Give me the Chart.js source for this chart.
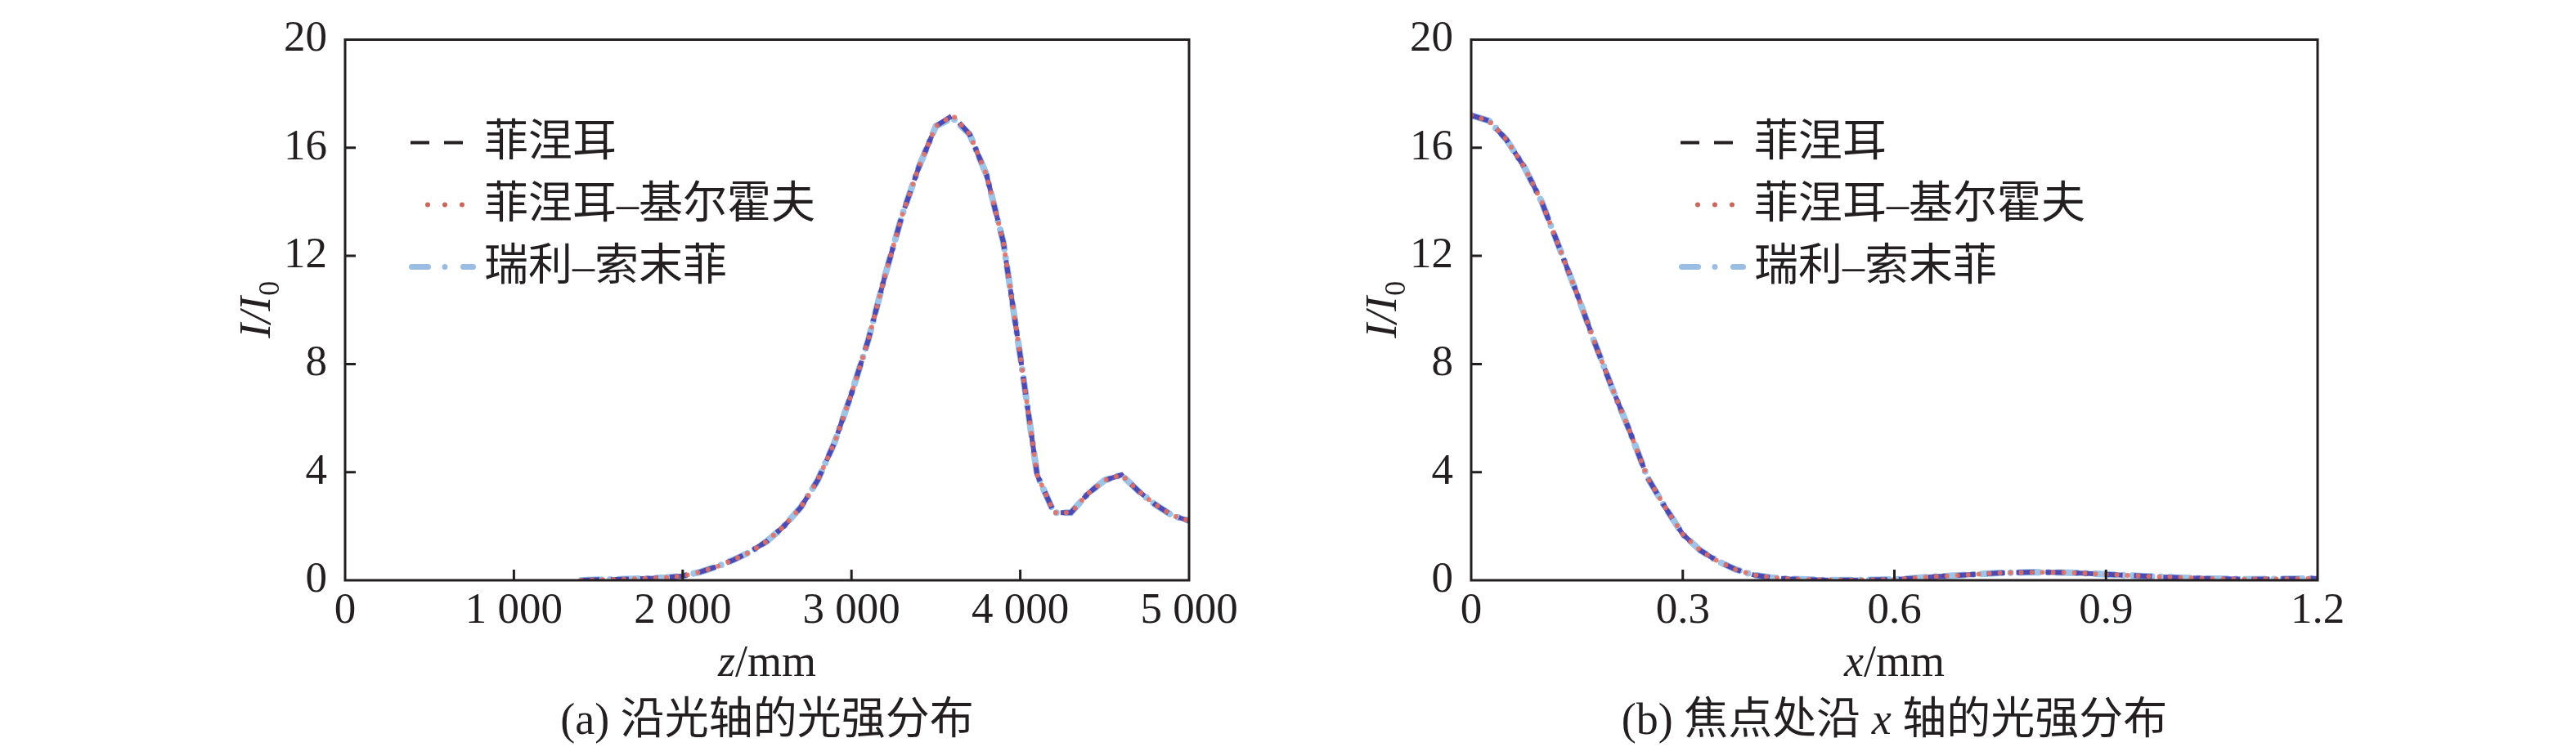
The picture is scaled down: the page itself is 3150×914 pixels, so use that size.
<!DOCTYPE html>
<html>
<head>
<meta charset="utf-8">
<script src="https://cdn.jsdelivr.net/npm/chart.js@4.4.1/dist/chart.umd.min.js"></script>
<style>
  html, body { margin: 0; padding: 0; background: #fff; }
  #wrap { width: 3150px; height: 914px; display: flex; }
  canvas { display: block; }
</style>
</head>
<body>
<div id="wrap">
  <canvas id="chartA" width="1575" height="914"></canvas>
  <canvas id="chartB" width="1575" height="914"></canvas>
</div>
<script>
// (a) intensity along the optical axis, z in mm
const zPos = [1400, 1500, 1600, 1700, 1800, 1900, 2000, 2100, 2200, 2300,
  2400, 2500, 2600, 2700, 2800, 2900, 3000, 3100, 3200, 3300,
  3400, 3500, 3600, 3700, 3800, 3900, 4000, 4100, 4200, 4300,
  4400, 4500, 4600, 4700, 4800, 4900, 5000];
const fresnelZ = [0.0, 0.02, 0.03, 0.05, 0.07, 0.1, 0.16, 0.3, 0.5, 0.75,
  1.05, 1.45, 2.0, 2.7, 3.7, 5.1, 6.9, 8.9, 11.3, 13.5,
  15.3, 16.8, 17.2, 16.5, 15.0, 12.5, 8.3, 3.9, 2.5, 2.5,
  3.2, 3.7, 3.9, 3.3, 2.8, 2.4, 2.2];
const kirchhoffZ = [0.0, 0.02, 0.03, 0.05, 0.07, 0.1, 0.16, 0.3, 0.5, 0.75,
  1.05, 1.45, 2.0, 2.7, 3.7, 5.1, 6.9, 8.9, 11.3, 13.5,
  15.3, 16.8, 17.2, 16.5, 15.0, 12.5, 8.3, 3.9, 2.5, 2.5,
  3.2, 3.7, 3.9, 3.3, 2.8, 2.4, 2.2];
const rayleighZ = [0.0, 0.02, 0.03, 0.05, 0.07, 0.1, 0.16, 0.3, 0.5, 0.75,
  1.05, 1.45, 2.0, 2.7, 3.7, 5.1, 6.9, 8.9, 11.3, 13.5,
  15.3, 16.8, 17.1, 16.5, 15.0, 12.5, 8.3, 3.9, 2.5, 2.5,
  3.2, 3.7, 3.9, 3.3, 2.8, 2.4, 2.2];

// (b) intensity across the focal plane, x in mm
const xPos = [0, 0.025, 0.05, 0.075, 0.1, 0.125, 0.15, 0.175, 0.2, 0.225,
  0.25, 0.275, 0.3, 0.325, 0.35, 0.375, 0.4, 0.425, 0.45, 0.5,
  0.55, 0.6, 0.65, 0.7, 0.75, 0.8, 0.85, 0.9, 0.95, 1.0,
  1.05, 1.1, 1.15, 1.2];
const fresnelX = [17.2, 17.0, 16.3, 15.3, 14.0, 12.3, 10.6, 8.8, 7.1, 5.5,
  3.8, 2.7, 1.7, 1.1, 0.7, 0.4, 0.2, 0.1, 0.05, 0.01,
  0.01, 0.03, 0.12, 0.2, 0.27, 0.3, 0.28, 0.22, 0.16, 0.1,
  0.06, 0.04, 0.05, 0.07];
const kirchhoffX = [17.2, 17.0, 16.3, 15.3, 14.0, 12.3, 10.6, 8.8, 7.1, 5.5,
  3.8, 2.7, 1.7, 1.1, 0.7, 0.4, 0.2, 0.1, 0.05, 0.01,
  0.01, 0.03, 0.12, 0.2, 0.27, 0.3, 0.28, 0.22, 0.16, 0.1,
  0.06, 0.04, 0.05, 0.07];
const rayleighX = [17.2, 17.0, 16.3, 15.3, 14.0, 12.3, 10.6, 8.8, 7.1, 5.5,
  3.8, 2.7, 1.7, 1.1, 0.7, 0.4, 0.2, 0.1, 0.05, 0.01,
  0.01, 0.03, 0.12, 0.2, 0.27, 0.3, 0.28, 0.22, 0.16, 0.1,
  0.06, 0.04, 0.05, 0.07];

const seriesNames = ['菲涅耳', '菲涅耳–基尔霍夫', '瑞利–索末菲'];
const yTicks = [0, 4, 8, 12, 16, 20];
const zTicks = [0, 1000, 2000, 3000, 4000, 5000];
const xTicks = [0, 0.3, 0.6, 0.9, 1.2];

const INK = '#231f20';
const SERIF = '"Liberation Serif", "Times New Roman", serif';
const CJK = '"Liberation Serif", "Noto Sans CJK SC", serif';

function pairs(xs, ys) {
  return xs.map((x, i) => ({ x: x, y: ys[i] }));
}

function makeDatasets(xs, a, b, c) {
  return [
    { label: seriesNames[0], data: pairs(xs, a), order: 1,
      borderColor: 'rgba(62, 52, 168, 0.85)', borderWidth: 6, borderDash: [22, 14],
      legendColor: INK, legendWidth: 4, legendDash: [23, 18], legendFrom: 80, legendTo: 145, legendCap: 'butt' },
    { label: seriesNames[1], data: pairs(xs, b), order: 0,
      borderColor: 'rgba(226, 112, 100, 0.9)', borderWidth: 6, borderDash: [0, 13], borderCapStyle: 'round',
      legendColor: '#c8675a', legendWidth: 6, legendDash: [0, 21], legendFrom: 101, legendTo: 144, legendCap: 'round' },
    { label: seriesNames[2], data: pairs(xs, c), order: 2,
      borderColor: '#9dc3e6', borderWidth: 8, borderDash: [24, 11, 0, 11], borderCapStyle: 'round',
      legendColor: '#9bbde3', legendWidth: 7, legendDash: [20, 20.5, 0, 22.5, 12], legendFrom: 81.5, legendTo: 156.5, legendCap: 'round' }
  ];
}

// frame, inward ticks, titles, legend and caption
const decorPlugin = {
  id: 'decor',
  afterDraw(chart, args, opts) {
    const ctx = chart.ctx;
    const a = chart.chartArea;
    const xs = chart.scales.x;
    const ys = chart.scales.y;
    ctx.save();
    ctx.strokeStyle = INK;
    ctx.lineWidth = 3;
    ctx.setLineDash([]);
    ctx.strokeRect(a.left, a.top, a.right - a.left, a.bottom - a.top);
    // inward tick marks
    ctx.beginPath();
    opts.xTicks.slice(1, -1).forEach(v => {
      const px = xs.getPixelForValue(v);
      ctx.moveTo(px, a.bottom);
      ctx.lineTo(px, a.bottom - 13);
    });
    yTicks.slice(1, -1).forEach(v => {
      const py = ys.getPixelForValue(v);
      ctx.moveTo(a.left, py);
      ctx.lineTo(a.left + 13, py);
    });
    ctx.stroke();

    ctx.fillStyle = INK;
    // y title I/I0
    ctx.save();
    ctx.translate(a.left - 92, (a.top + a.bottom) / 2);
    ctx.rotate(-Math.PI / 2);
    ctx.font = 'italic 54px ' + SERIF;
    const w1 = ctx.measureText('I/I').width;
    ctx.font = '36px ' + SERIF;
    const w2 = ctx.measureText('0').width;
    const start = -(w1 + w2) / 2;
    ctx.textBaseline = 'alphabetic';
    ctx.textAlign = 'left';
    ctx.font = 'italic 54px ' + SERIF;
    ctx.fillText('I/I', start, 0);
    ctx.font = '36px ' + SERIF;
    ctx.fillText('0', start + w1 + 1, 11);
    ctx.restore();

    // x title and caption
    const cx = (a.left + a.right) / 2;
    drawRuns(ctx, [[opts.axisVar, true], ['/mm', false]], cx, 827, 54);
    drawRuns(ctx, opts.caption, cx, 898, 54);

    // legend
    const datasets = chart.data.datasets;
    const rows = [126, 202, 278];
    datasets.forEach((ds, i) => {
      const y = a.top + rows[i];
      const x0 = a.left + opts.legendX;
      ctx.save();
      ctx.strokeStyle = ds.legendColor;
      ctx.lineWidth = ds.legendWidth;
      ctx.lineCap = ds.legendCap;
      ctx.setLineDash(ds.legendDash);
      ctx.beginPath();
      ctx.moveTo(x0 + ds.legendFrom, y);
      ctx.lineTo(x0 + ds.legendTo, y);
      ctx.stroke();
      ctx.restore();
      ctx.font = '54px ' + CJK;
      ctx.textAlign = 'left';
      ctx.textBaseline = 'middle';
      ctx.fillText(ds.label, x0 + 170, y + 2);
    });
    ctx.restore();
  }
};

function drawRuns(ctx, runs, cx, y, size) {
  const fontFor = it => (it ? 'italic ' : '') + size + 'px ' + CJK;
  let total = 0;
  runs.forEach(r => { ctx.font = fontFor(r[1]); total += ctx.measureText(r[0]).width; });
  let x = cx - total / 2;
  ctx.textAlign = 'left';
  ctx.textBaseline = 'alphabetic';
  runs.forEach(r => {
    ctx.font = fontFor(r[1]);
    ctx.fillText(r[0], x, y);
    x += ctx.measureText(r[0]).width;
  });
}

function makeChart(canvas, datasets, xMax, tickFmt, padLeft, padRight, opts) {
  return new Chart(canvas, {
    type: 'line',
    data: { datasets: datasets },
    options: {
      responsive: false,
      animation: false,
      devicePixelRatio: 1,
      layout: { padding: { left: padLeft, right: padRight, top: 31, bottom: 104 } },
      elements: { point: { radius: 0 }, line: { tension: 0 } },
      plugins: { legend: { display: false }, tooltip: { enabled: false }, decor: opts },
      scales: {
        x: {
          type: 'linear', min: 0, max: xMax,
          grid: { display: false, drawTicks: false },
          border: { display: false },
          afterBuildTicks: s => { s.ticks = opts.xTicks.map(v => ({ value: v })); },
          afterFit: s => { s.height = 100; },
          ticks: {
            padding: 12, color: INK, maxRotation: 0, autoSkip: false,
            font: { family: SERIF, size: 53, lineHeight: 1 },
            callback: tickFmt
          }
        },
        y: {
          min: 0, max: 20,
          grid: { display: false, drawTicks: false },
          border: { display: false },
          afterBuildTicks: s => { s.ticks = yTicks.map(v => ({ value: v })); },
          afterFit: s => { s.width = 100; },
          ticks: {
            padding: 22, color: INK,
            font: { family: SERIF, size: 53, lineHeight: 1 }
          }
        }
      }
    },
    plugins: [decorPlugin]
  });
}

makeChart(document.getElementById('chartA'),
  makeDatasets(zPos, fresnelZ, kirchhoffZ, rayleighZ),
  5000,
  v => (v === 0 ? '0' : (v / 1000) + ' 000'),
  322, 121,
  { xTicks: zTicks, axisVar: 'z', legendX: 0,
    caption: [['(a) 沿光轴的光强分布', false]] });

makeChart(document.getElementById('chartB'),
  makeDatasets(xPos, fresnelX, kirchhoffX, rayleighX),
  1.2,
  v => (v === 0 ? '0' : v.toFixed(1)),
  124, 316,
  { xTicks: xTicks, axisVar: 'x', legendX: 176,
    caption: [['(b) 焦点处沿 ', false], ['x', true], [' 轴的光强分布', false]] });
</script>
</body>
</html>
